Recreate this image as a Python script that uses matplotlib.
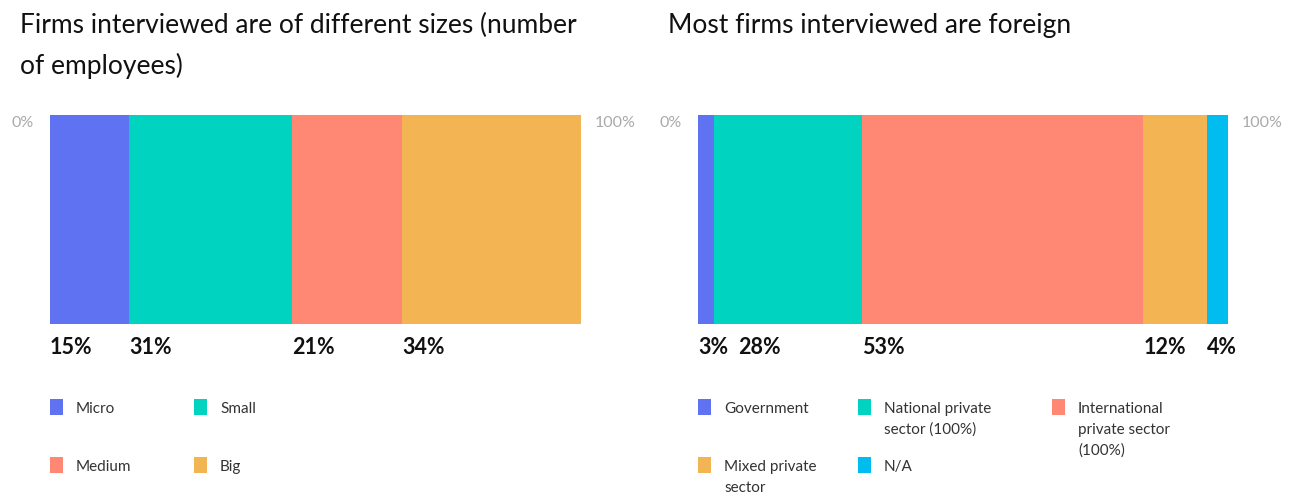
import numpy as np
import matplotlib.pyplot as plt
import matplotlib.transforms as mtransforms
from matplotlib.patches import Rectangle

W, H = 1297, 495

size_title = "Firms interviewed are of different sizes (number\nof employees)"
size_labels = ["Micro", "Small", "Medium", "Big"]
size_values = [15, 31, 21, 34]
size_colors = ["#5F73F2", "#00D4C1", "#FF8874", "#F3B553"]

owner_title = "Most firms interviewed are foreign"
owner_labels = ["Government", "National private\nsector (100%)",
                "International\nprivate sector\n(100%)", "Mixed private\nsector", "N/A"]
owner_values = [3, 28, 53, 12, 4]
owner_colors = ["#5F73F2", "#00D4C1", "#FF8874", "#F3B553", "#00BCEF"]

plt.rcParams['font.family'] = ['Lato', 'DejaVu Sans']


def fx(x):
    return x / W


def fy(y):
    return 1 - y / H


fig = plt.figure(figsize=(W / 100, H / 100), dpi=100)


def stacked(x0, x1, values, colors, title):
    ax = fig.add_axes([fx(x0), fy(324), fx(x1 - x0), (324 - 115) / H])
    total = sum(values)
    starts = np.concatenate([[0], np.cumsum(values)[:-1]])
    ax.barh([0], values, left=starts, height=1, align='edge', color=colors, linewidth=0)
    ax.set_xlim(0, total)
    ax.set_ylim(0, 1)
    ax.axis('off')
    ax.text(-16 / (x1 - x0), 0.96, "0%", transform=ax.transAxes, ha='right', va='center',
            color='#AAAAAA', fontsize=11.5)
    ax.text(1 + 14 / (x1 - x0), 0.96, "100%", transform=ax.transAxes, ha='left', va='center',
            color='#AAAAAA', fontsize=11.5)
    # value labels, nudged right when too close to the previous one
    tr = mtransforms.blended_transform_factory(ax.transData, fig.transFigure)
    min_gap = 40 / (x1 - x0) * total
    prev = None
    for s, v in zip(starts, values):
        pos = s if prev is None else max(s, prev + min_gap)
        ax.text(pos, fy(348), f"{v}%", transform=tr, ha='left', va='center',
                fontsize=15.5, fontweight='bold', color='#111111')
        prev = pos
    fig.text(fx(x0 - 30), fy(13), title, ha='left', va='top', fontsize=19,
             color='#111111', linespacing=1.72)
    return ax


stacked(50, 581, size_values, size_colors, size_title)
stacked(698, 1228, owner_values, owner_colors, owner_title)


def legend(items, colors, cols_x, rows_y):
    for i, (lab, c) in enumerate(zip(items, colors)):
        col = cols_x[i % len(cols_x)]
        row = rows_y[i // len(cols_x)]
        fig.patches.append(Rectangle((fx(col), fy(row + 16)), 13 / W, 16 / H,
                                     transform=fig.transFigure, color=c, linewidth=0))
        fig.text(fx(col + 26), fy(row + 3), lab, ha='left', va='top',
                 fontsize=11, color='#333333', linespacing=1.6)


legend(size_labels, size_colors, [50, 194], [399, 457])
legend(owner_labels, owner_colors, [698, 858, 1052], [399, 457])

fig.savefig("out.png", dpi=100, facecolor='white')
